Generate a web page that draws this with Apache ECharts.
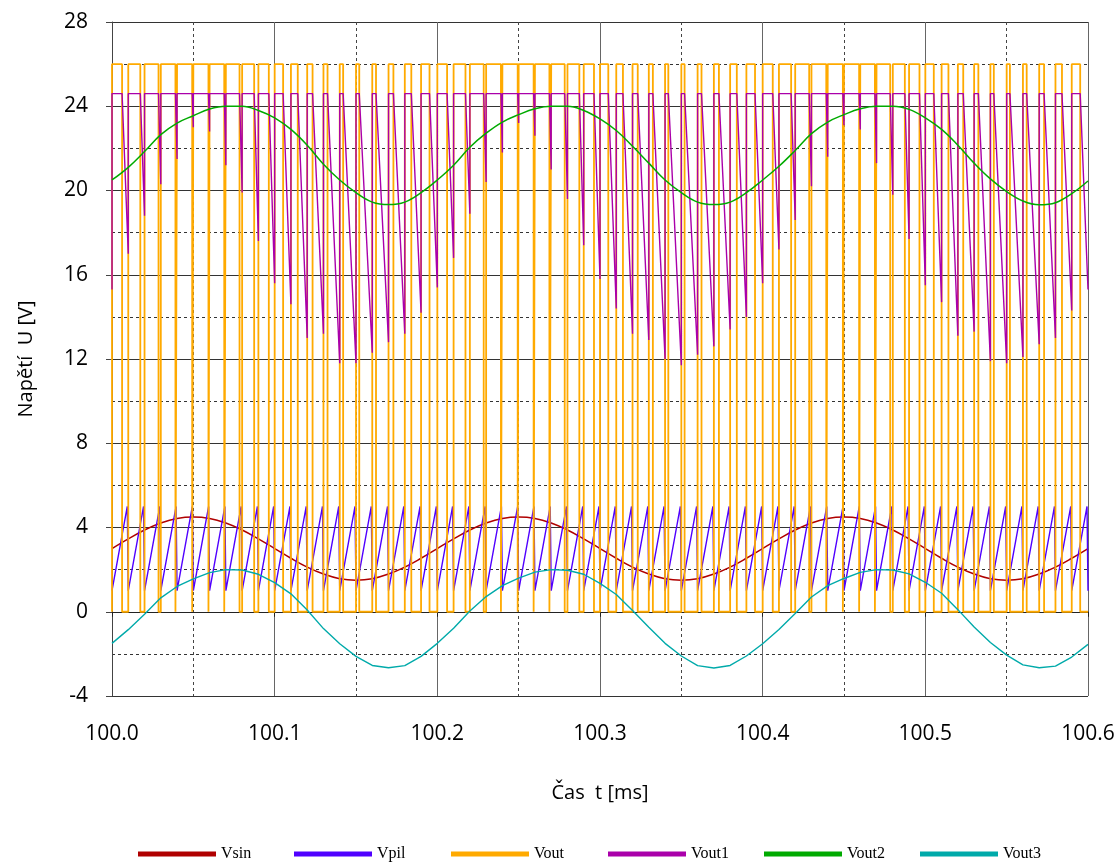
<!DOCTYPE html>
<html>
<head>
<meta charset="utf-8">
<title>Napětí</title>
<script src="https://cdn.jsdelivr.net/npm/echarts@6/dist/echarts.min.js"></script>
<style>
  html, body { margin: 0; padding: 0; background: #fff; }
  #chart { width: 1120px; height: 862px; }
</style>
</head>
<body>
<div id="chart"></div>
<script>
// sampled every 0.01 ms from 100.00 to 100.60
var sampleStep = 0.01
var vsin = [
  3.0, 3.46, 3.88, 4.21, 4.43, 4.5, 4.43, 4.21, 3.88, 3.46,
  3.0, 2.54, 2.12, 1.79, 1.57, 1.5, 1.57, 1.79, 2.12, 2.54,
  3.0, 3.46, 3.88, 4.21, 4.43, 4.5, 4.43, 4.21, 3.88, 3.46,
  3.0, 2.54, 2.12, 1.79, 1.57, 1.5, 1.57, 1.79, 2.12, 2.54,
  3.0, 3.46, 3.88, 4.21, 4.43, 4.5, 4.43, 4.21, 3.88, 3.46,
  3.0, 2.54, 2.12, 1.79, 1.57, 1.5, 1.57, 1.79, 2.12, 2.54,
  3.0
]
var vout2 = [
  20.5, 21.1, 21.85, 22.65, 23.2, 23.55, 23.87, 24.0, 24.0, 23.8,
  23.45, 22.9, 22.15, 21.25, 20.5, 19.9, 19.45, 19.33, 19.45, 19.9,
  20.5, 21.2, 22.05, 22.72, 23.25, 23.6, 23.88, 24.0, 24.0, 23.8,
  23.4, 22.85, 22.1, 21.3, 20.5, 19.9, 19.45, 19.33, 19.45, 19.9,
  20.5, 21.15, 21.9, 22.7, 23.25, 23.6, 23.88, 24.0, 24.0, 23.85,
  23.45, 22.9, 22.15, 21.3, 20.55, 19.95, 19.5, 19.32, 19.42, 19.85,
  20.45
]
var vout3 = [
  -1.5, -0.85, -0.12, 0.66, 1.2, 1.56, 1.86, 2.0, 1.98, 1.78,
  1.38, 0.85, 0.08, -0.8, -1.52, -2.12, -2.55, -2.66, -2.56, -2.12,
  -1.5, -0.78, 0.04, 0.72, 1.24, 1.6, 1.88, 2.0, 1.97, 1.78,
  1.35, 0.82, 0.06, -0.74, -1.5, -2.1, -2.56, -2.67, -2.55, -2.1,
  -1.52, -0.84, -0.08, 0.7, 1.24, 1.58, 1.87, 2.0, 1.98, 1.8,
  1.4, 0.88, 0.1, -0.72, -1.46, -2.06, -2.52, -2.66, -2.58, -2.15,
  -1.55
]

// one PWM period per sawtooth tooth, 0.01 ms each, starting at 100.00
var pwmPeriod = 0.01
var duty = [
  0.62, 0.74, 0.86, 0.90, 0.93, 0.93, 0.90, 0.84, 0.74, 0.64,
  0.52, 0.42, 0.33, 0.25, 0.21, 0.20, 0.23, 0.30, 0.40, 0.52,
  0.60, 0.73, 0.85, 0.91, 0.94, 0.92, 0.89, 0.83, 0.73, 0.63,
  0.51, 0.41, 0.32, 0.25, 0.20, 0.20, 0.24, 0.31, 0.41, 0.53,
  0.62, 0.75, 0.86, 0.91, 0.93, 0.93, 0.90, 0.84, 0.74, 0.64,
  0.52, 0.42, 0.33, 0.26, 0.21, 0.20, 0.23, 0.30, 0.40, 0.52
]
// lowest value of Vout1 at the end of each period
var vout1Dip = [
  17.0, 18.8, 20.3, 21.5, 23.0, 22.8, 21.2, 19.9, 17.6, 15.6,
  14.6, 13.0, 13.2, 11.8, 11.8, 12.3, 12.8, 13.2, 14.2, 15.4,
  16.8, 18.9, 20.4, 21.8, 23.2, 22.6, 21.0, 19.6, 17.4, 15.8,
  14.4, 13.2, 12.9, 12.0, 11.7, 12.2, 12.6, 13.4, 14.0, 15.6,
  17.2, 18.6, 20.2, 21.6, 23.1, 22.9, 21.3, 19.8, 17.7, 15.5,
  14.7, 13.1, 13.3, 11.9, 11.8, 12.1, 12.7, 13.0, 14.3, 15.3
]
var voutHigh = 26.0
var vout1High = 24.6
var sawLow = 1.0
var sawHigh = 5.0
var sawRise = 0.0094

var tStart = 100.0
var tEnd = 100.6

var legendNames = ['Vsin', 'Vpil', 'Vout', 'Vout1', 'Vout2', 'Vout3']
var colors = ['#B00000', '#5000FF', '#FFAA00', '#AA00AA', '#00AA00', '#00AAAA']
var legendLeft = [133, 289, 446, 603, 759, 915]

function sampled(vals) {
  return vals.map(function(v, i) { return [tStart + i * sampleStep, v] })
}

var pilData = []
var voutData = []
var vout1Data = []
var prevDip = vout1Dip[vout1Dip.length - 1]
duty.forEach(function(d, k) {
  var t0 = tStart + k * pwmPeriod
  var tf = t0 + d * pwmPeriod
  var t1 = t0 + pwmPeriod
  pilData.push([t0, sawLow], [t0 + sawRise, sawHigh])
  voutData.push([t0, 0], [t0, voutHigh], [tf, voutHigh], [tf, 0])
  vout1Data.push([t0, prevDip], [t0, vout1High], [tf, vout1High], [t1, vout1Dip[k]])
  prevDip = vout1Dip[k]
})
pilData.push([tEnd, sawLow])
voutData.push([tEnd, 0])

function lineSeries(name, data, color, width, smooth) {
  return {
    name: name,
    type: 'line',
    data: data,
    symbol: 'none',
    smooth: smooth || false,
    color: color,
    lineStyle: { color: color, width: width },
    animation: false
  }
}

var chart = echarts.init(document.getElementById('chart'))
chart.setOption({
  animation: false,
  grid: { left: 112, right: 32, top: 22, bottom: 166 },
  legend: legendNames.map(function(n, i) {
    return {
      data: [n],
      left: legendLeft[i],
      top: 841,
      icon: 'rect',
      itemWidth: 78,
      itemHeight: 5,
      textStyle: { fontFamily: 'Liberation Serif', fontSize: 16, color: '#000' }
    }
  }),
  xAxis: {
    type: 'value',
    min: tStart,
    max: tEnd,
    interval: 0.1,
    name: 'Čas  t [ms]',
    nameLocation: 'middle',
    nameGap: 87,
    nameTextStyle: { fontFamily: 'Open Sans', fontSize: 20, color: '#000' },
    axisLine: { lineStyle: { color: '#222', width: 1 } },
    axisTick: { show: true, length: 5, lineStyle: { color: '#222' } },
    axisLabel: {
      margin: 28,
      fontFamily: 'Open Sans',
      fontSize: 21,
      color: '#000',
      formatter: function(v) { return v.toFixed(1) }
    },
    splitLine: { show: true, lineStyle: { color: '#666', width: 1 } },
    minorTick: { show: false, splitNumber: 2 },
    minorSplitLine: { show: true, lineStyle: { color: '#444', width: 1, type: [3, 3] } }
  },
  yAxis: {
    type: 'value',
    min: -4,
    max: 28,
    interval: 4,
    name: 'Napětí  U [V]',
    nameLocation: 'middle',
    nameGap: 76,
    nameTextStyle: { fontFamily: 'Open Sans', fontSize: 20, color: '#000' },
    axisLine: { show: true, lineStyle: { color: '#444', width: 1 } },
    axisTick: { show: true, length: 6, lineStyle: { color: '#444' } },
    axisLabel: { margin: 24, fontFamily: 'Open Sans', fontSize: 21, color: '#000' },
    splitLine: { show: true, lineStyle: { color: '#333', width: 1 } },
    minorTick: { show: false, splitNumber: 2 },
    minorSplitLine: { show: true, lineStyle: { color: '#333', width: 1, type: [3, 3] } }
  },
  series: [
    lineSeries('Vsin', sampled(vsin), colors[0], 1.5, 0.4),
    lineSeries('Vpil', pilData, colors[1], 1.4, false),
    lineSeries('Vout', voutData, colors[2], 1.8, false),
    lineSeries('Vout1', vout1Data, colors[3], 1.4, false),
    lineSeries('Vout2', sampled(vout2), colors[4], 1.5, 0.4),
    lineSeries('Vout3', sampled(vout3), colors[5], 1.4, false)
  ]
})
</script>
</body>
</html>
